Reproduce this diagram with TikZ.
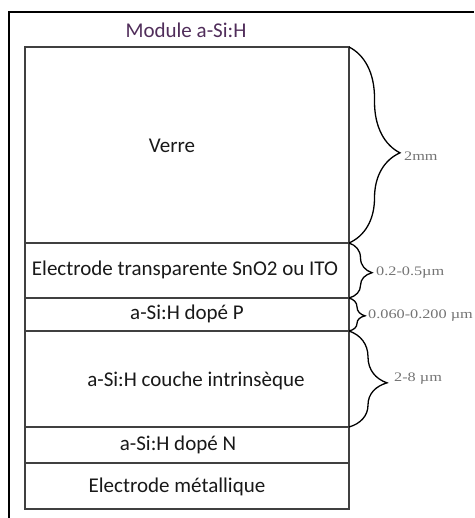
\documentclass[tikz,border=0pt]{standalone}
\usepackage{fontspec}
\setmainfont{Carlito}
\newfontfamily\dimfont{Liberation Serif}
\usetikzlibrary{decorations.pathreplacing}

\definecolor{titlecol}{RGB}{80,45,90}
\newcommand{\dimtxt}[1]{\scalebox{1.25}[1]{#1}}

\begin{document}
\begin{tikzpicture}[
  x=1pt, y=-1pt,
  layer/.style={rectangle, draw=black!75, line width=1.4pt, minimum width=324pt,
    minimum height=#1, inner sep=0pt, outer sep=0pt},
  lbl/.style={font=\fontsize{21}{24}\selectfont, text=black!90, inner sep=0pt},
  dim/.style={font=\dimfont\fontsize{13}{15}\selectfont, text=black!55,
    anchor=west, inner sep=0pt},
  sizebrace/.style={decorate, decoration={brace, amplitude=#1, aspect=0.54},
    line width=1.3pt},
]
\useasboundingbox (0,0) rectangle (474,518);

% --- Frame ---
\draw[line width=1.3pt] (9,518) -- (9,12) -- (474,12);

% --- Title ---
\node[lbl, text=titlecol] (title) at (186,30) {Module a-Si:H};

% --- Layers ---
\node[layer=196pt] (verre) at (187,145)   {};
\node[layer=55pt]  (tco)   at (187,270.5) {};
\node[layer=33pt]  (pdop)  at (187,314.5) {};
\node[layer=96pt]  (intr)  at (187,379)   {};
\node[layer=36pt]  (ndop)  at (187,445)   {};
\node[layer=46pt]  (metal) at (187,486)   {};

% --- Layer labels ---
\node[lbl] (tverre) at (172,146) {Verre};
\node[lbl] (ttco)   at (185,270) {Electrode transparente SnO2 ou ITO};
\node[lbl] (tpdop)  at (187,314) {a-Si:H dopé P};
\node[lbl] (tintr)  at (196,381) {a-Si:H couche intrinsèque};
\node[lbl] (tndop)  at (178,445) {a-Si:H dopé N};
\node[lbl] (tmetal) at (177,487) {Electrode métallique};

% --- Thickness braces ---
\draw[sizebrace=51pt] (verre.north east) -- (verre.south east);
\draw[sizebrace=23pt] (tco.north east) -- (tco.south east);
\draw[sizebrace=16pt] (pdop.north east) -- (pdop.south east);
\draw[sizebrace=38pt] (intr.north east) -- (intr.south east);

\node[dim] (dverre) at (404,156) {\dimtxt{2mm}};
\node[dim] (dtco)   at (376,273) {\dimtxt{0.2-0.5µm}};
\node[dim] (dpdop)  at (368,316) {\dimtxt{0.060-0.200 µm}};
\node[dim] (dintr)  at (394,379) {\dimtxt{2-8 µm}};

\end{tikzpicture}
\end{document}
